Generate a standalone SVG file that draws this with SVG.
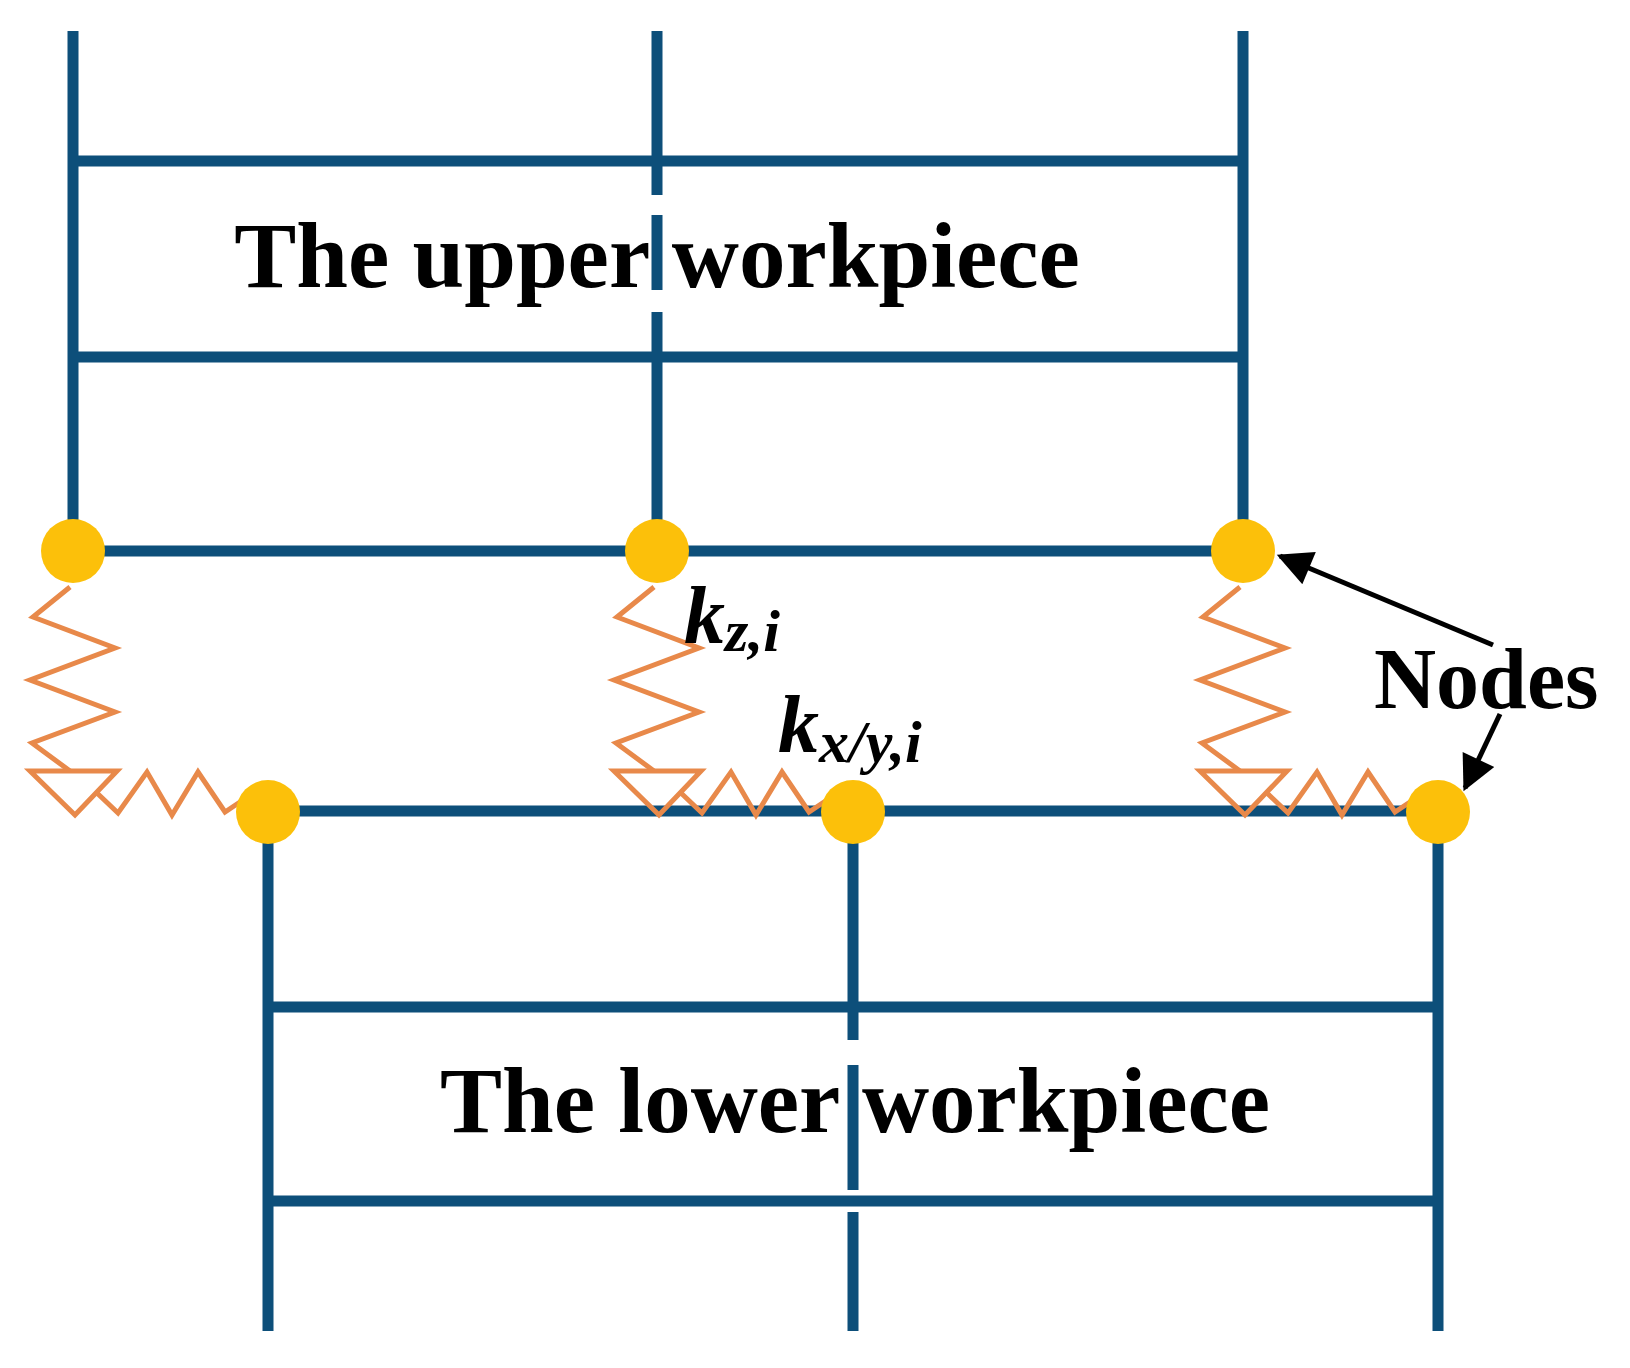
<svg xmlns="http://www.w3.org/2000/svg" width="1630" height="1368" viewBox="0 0 1630 1368">
<style>
.m{stroke:#0d4f7a;stroke-width:11;fill:none}
.s{stroke:#e8894a;stroke-width:5;fill:none;stroke-linejoin:miter}
.n{fill:#fcc00a}
.t{font-family:"Liberation Serif",serif;font-weight:bold;fill:#000}
</style>
<defs>
<g id="spr">
<polyline class="s" points="-3,37 -40,67 42,98 -43,130 42,162 -41,193 -3,221"/>
<polygon class="s" points="-43,221 44,221 2,265"/>
<polyline class="s" points="24,243 45,263 74,222 99,265 125,222 152,262 170,250"/>
</g>
<marker id="ah" viewBox="0 0 10 10" refX="9" refY="5" markerWidth="8" markerHeight="7" orient="auto" markerUnits="strokeWidth"><path d="M0,0L10,5L0,10z" fill="#000"/></marker>
</defs>
<g id="upper">
<path class="m" d="M73,31V551M657,31V195M657,215V290M657,312V551M1243,31V551M73,161H1243M73,357H1243M73,551H1243"/>
<text class="t" x="657" y="287" font-size="93" text-anchor="middle">The upper workpiece</text>
</g>
<g id="lower">
<path class="m" d="M268,811V1331M853,811V1040M853,1065V1190M853,1212V1331M1438,811V1331M268,1007H1438M268,1201H1438M268,811H1438"/>
<text class="t" x="855" y="1132" font-size="93" text-anchor="middle">The lower workpiece</text>
</g>
<g id="springs">
<use href="#spr" transform="translate(73,550)"/>
<use href="#spr" transform="translate(657,550)"/>
<use href="#spr" transform="translate(1243,550)"/>
</g>
<g id="nodes">
<circle class="n" cx="73" cy="551" r="32"/>
<circle class="n" cx="657" cy="551" r="32"/>
<circle class="n" cx="1243" cy="551" r="32"/>
<circle class="n" cx="268" cy="812" r="32"/>
<circle class="n" cx="853" cy="812" r="32"/>
<circle class="n" cx="1438" cy="812" r="32"/>
</g>
<g id="labels">
<text class="t" x="684" y="643" font-size="82" font-style="italic">k<tspan font-size="60" dy="8">z,i</tspan></text>
<text class="t" x="778" y="752" font-size="82" font-style="italic">k<tspan font-size="60" dy="10">x/y,i</tspan></text>
<text class="t" x="1374" y="708" font-size="86">Nodes</text>
</g>
<g id="connectors">
<line x1="1493" y1="645" x2="1280" y2="556" stroke="#000" stroke-width="5" marker-end="url(#ah)"/>
<line x1="1500" y1="714" x2="1465" y2="788" stroke="#000" stroke-width="5" marker-end="url(#ah)"/>
</g>
</svg>
